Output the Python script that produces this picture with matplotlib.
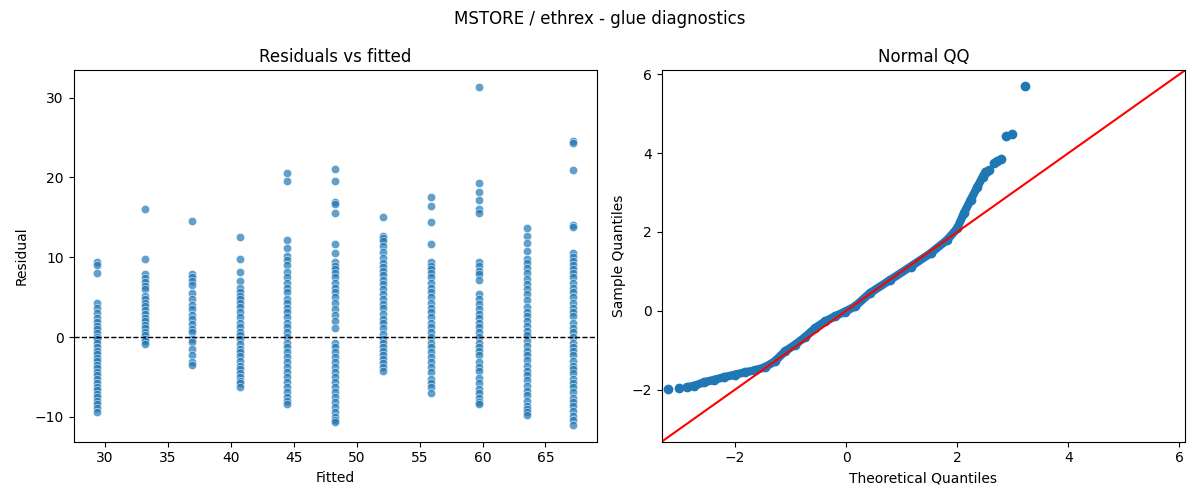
import matplotlib
matplotlib.use("Agg")
import matplotlib.pyplot as plt
import seaborn as sns
import numpy as np

# fitted levels (one column of residuals per level)
fitted_levels = [29.4, 33.2, 36.9, 40.7, 44.5, 48.3, 52.1, 55.9, 59.7, 63.5, 67.2]

res_29 = [9.4, 9.0, 8.0, 4.3, 3.6, 3.0, 2.4, 1.9, 1.4, 1.0, 0.5, 0.0, -0.3, -0.8, -1.2,
          -1.7, -2.1, -2.6, -3.0, -3.5, -3.9, -4.4, -4.8, -5.3, -5.7, -6.2, -6.6, -7.1,
          -7.5, -8.0, -8.4, -8.9, -9.4]
res_33 = [16.0, 9.8, 7.9, 7.4, 6.9, 6.4, 6.0, 5.1, 4.8, 4.3, 3.9, 3.4, 2.9, 2.4, 2.0,
          1.5, 1.1, 0.6, 0.2, -0.2, -0.5, -0.9]
res_37 = [14.5, 7.9, 7.5, 7.0, 6.5, 5.5, 4.8, 4.0, 3.5, 2.7, 2.3, 1.6, 1.0, 0.6, -0.2,
          -0.6, -1.5, -2.2, -3.1, -3.5]
res_41 = [12.5, 9.8, 8.1, 7.0, 6.1, 5.6, 5.2, 4.8, 4.3, 3.8, 3.1, 2.5, 1.8, 1.2, 0.6,
          0.2, -0.3, -0.9, -1.5, -1.9, -2.4, -3.0, -3.6, -4.0, -4.5, -5.0, -5.5, -5.8, -6.2]
res_45 = [20.6, 19.6, 12.2, 11.2, 10.2, 9.6, 9.0, 8.1, 7.5, 6.8, 6.2, 5.6, 4.8, 4.3, 3.7,
          3.1, 2.5, 1.8, 1.2, 0.6, 0.0, -0.7, -1.3, -1.9, -2.5, -3.1, -3.8, -4.4, -5.0,
          -5.6, -6.3, -6.9, -7.5, -8.0, -8.4]
res_48 = [21.1, 19.5, 16.9, 16.7, 15.5, 11.6, 10.5, 9.4, 8.9, 8.5, 8.0, 7.5, 6.8, 6.2,
          5.6, 5.0, 4.3, 3.5, 2.7, 2.0, 1.1, -0.7, -1.3, -1.9, -2.5, -3.1, -3.8, -4.4,
          -5.0, -5.6, -6.3, -6.9, -7.5, -8.1, -8.8, -9.4, -10.0, -10.4, -10.7]
res_52 = [15.1, 12.7, 12.4, 12.0, 11.4, 10.7, 9.9, 9.3, 8.8, 8.3, 7.8, 7.2, 6.6, 6.0,
          5.4, 4.8, 4.1, 3.6, 2.9, 2.3, 1.7, 1.1, 0.4, -0.2, -0.7, -1.2, -1.7, -2.3,
          -2.8, -3.2, -3.8, -4.3]
res_56 = [17.6, 16.4, 14.4, 11.6, 9.4, 8.9, 8.5, 8.0, 7.5, 6.8, 6.2, 5.6, 5.0, 4.3, 3.7,
          3.1, 2.5, 1.8, 1.2, 0.6, 0.0, -0.7, -1.3, -1.9, -2.5, -3.1, -3.8, -4.4, -5.2,
          -5.8, -6.2, -7.0]
res_60 = [31.3, 19.3, 18.2, 17.2, 16.1, 15.6, 9.4, 8.9, 8.3, 7.9, 7.2, 5.4, 4.8, 4.1,
          3.5, 2.9, 2.4, 1.8, 1.2, 0.6, 0.0, -0.7, -1.3, -1.8, -2.3, -3.1, -3.7, -4.3,
          -5.1, -5.8, -6.5, -7.0, -7.6, -8.2, -8.4]
res_63 = [13.7, 12.7, 11.8, 10.8, 9.8, 9.3, 8.6, 8.0, 7.3, 6.6, 6.0, 5.4, 4.7, 3.8, 3.2,
          2.6, 2.0, 1.4, 0.8, 0.2, -0.5, -1.1, -1.7, -2.3, -2.9, -3.6, -4.2, -4.8, -5.4,
          -6.1, -6.7, -7.3, -8.0, -8.6, -9.0, -9.4, -9.8]
res_67 = [24.6, 24.3, 20.9, 14.1, 13.8, 10.5, 10.0, 9.5, 9.0, 8.5, 8.0, 7.5, 6.8, 6.2,
          5.6, 5.0, 4.3, 3.6, 3.1, 2.6, 1.8, 1.1, 0.6, 0.0, -0.7, -1.2, -1.7, -2.3, -3.0,
          -3.6, -4.0, -4.5, -5.2, -5.7, -6.3, -6.9, -7.6, -8.1, -8.6, -9.3, -9.9, -10.4,
          -11.0]
residual_columns = [res_29, res_33, res_37, res_41, res_45, res_48, res_52, res_56,
                    res_60, res_63, res_67]

# normal QQ: dense body of the curve
qq_theo = [-2.87, -2.73, -2.55, -2.37, -2.19, -2.0, -1.82, -1.64, -1.46, -1.28, -1.10,
           -0.92, -0.74, -0.56, -0.38, -0.20, -0.02, 0.16, 0.43, 0.79, 1.16, 1.52, 1.82,
           2.0, 2.12, 2.24, 2.36, 2.46, 2.51]
qq_sample = [-1.94, -1.90, -1.81, -1.75, -1.68, -1.62, -1.56, -1.51, -1.43, -1.28, -1.03,
             -0.86, -0.67, -0.44, -0.27, -0.14, -0.02, 0.11, 0.45, 0.78, 1.12, 1.46, 1.80,
             2.09, 2.47, 2.81, 3.13, 3.40, 3.53]
# isolated points in the tails
tail_theo = [-3.20, -3.0, 2.57, 2.66, 2.72, 2.78, 2.87, 2.99, 3.22]
tail_sample = [-1.98, -1.96, 3.57, 3.75, 3.80, 3.85, 4.43, 4.48, 5.70]

fitted = []
residual = []
for lvl, col in zip(fitted_levels, residual_columns):
    fitted += [lvl] * len(col)
    residual += col

fig, (ax1, ax2) = plt.subplots(1, 2, figsize=(12, 5))
fig.suptitle("MSTORE / ethrex - glue diagnostics")

sns.scatterplot(x=fitted, y=residual, alpha=0.7, ax=ax1)
ax1.axhline(0, color="k", linestyle="--", linewidth=1)
ax1.set_title("Residuals vs fitted")
ax1.set_xlabel("Fitted")
ax1.set_ylabel("Residual")

ax2.plot(qq_theo, qq_sample, color="C0", marker="o", markersize=6, linewidth=6,
         solid_capstyle="round", solid_joinstyle="round")
ax2.plot(tail_theo, tail_sample, "o", color="C0", markersize=6)
lo, hi = -3.32, 6.1
ax2.plot([lo, hi], [lo, hi], "r-")
ax2.set_xlim(lo, hi)
ax2.set_ylim(lo, hi)
ax2.set_title("Normal QQ")
ax2.set_xlabel("Theoretical Quantiles")
ax2.set_ylabel("Sample Quantiles")

plt.tight_layout()
plt.savefig("out.png", dpi=100)
